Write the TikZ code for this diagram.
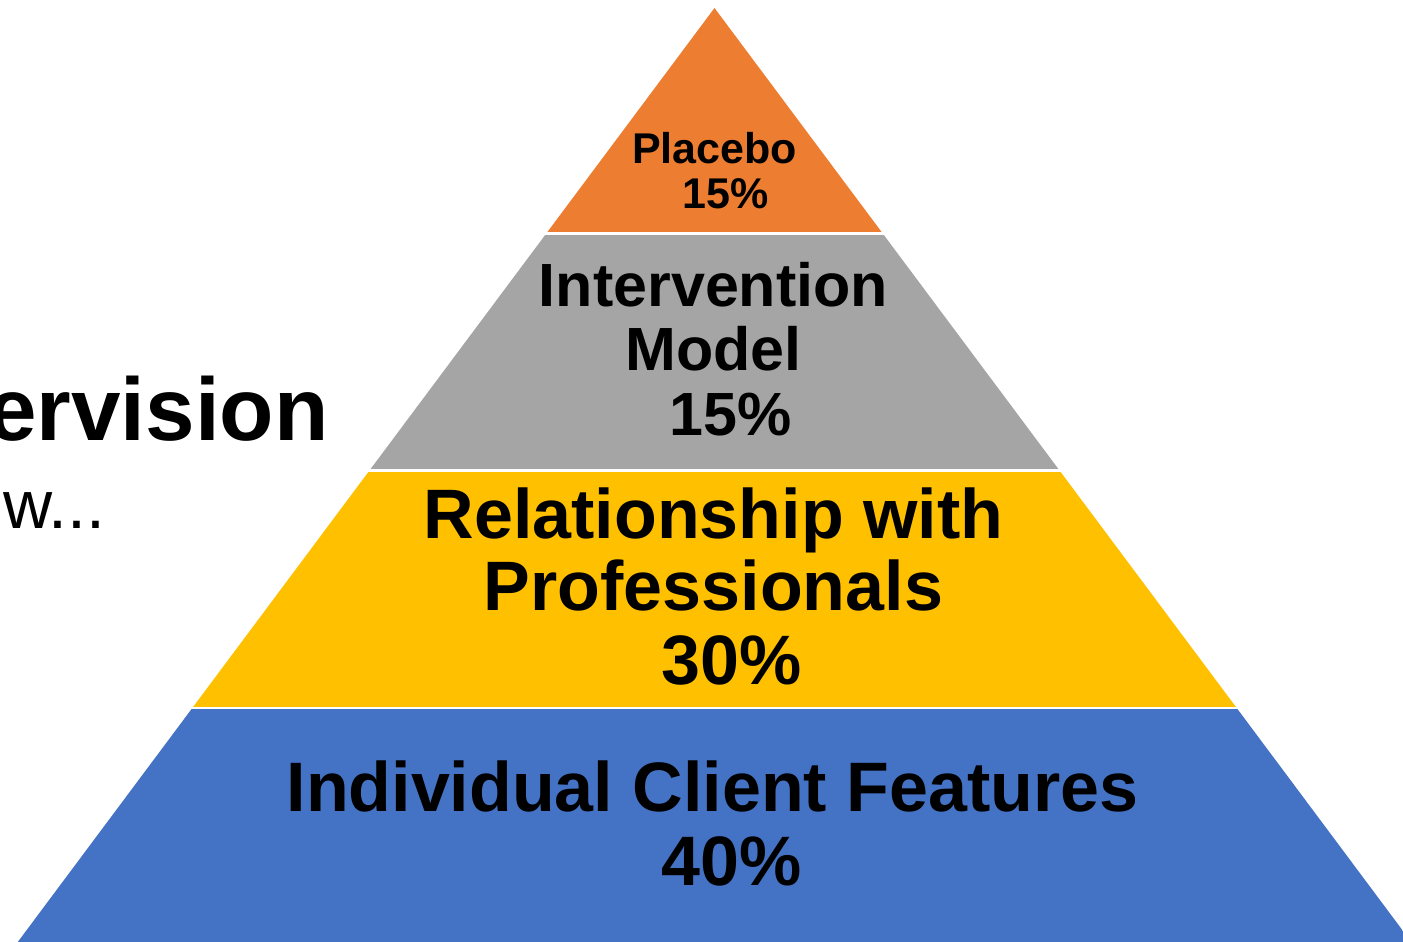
\documentclass[tikz,border=0pt]{standalone}
\usepackage{fontspec}
\setmainfont{Liberation Sans}
\definecolor{pyrOrange}{HTML}{ED7D31}
\definecolor{pyrGray}{HTML}{A5A5A5}
\definecolor{pyrYellow}{HTML}{FFC000}
\definecolor{pyrBlue}{HTML}{4472C4}
\tikzset{
  lbl/.style={inner sep=0pt, outer sep=0pt, anchor=base, text=black},
  fsmall/.style={font=\bfseries\fontsize{43}{43}\selectfont},
  fmid/.style={font=\bfseries\fontsize{61}{61}\selectfont},
  fbig/.style={font=\bfseries\fontsize{70}{70}\selectfont},
}
\begin{document}
\begin{tikzpicture}[x=1pt,y=-1pt]
\useasboundingbox (0,0) rectangle (1403,942);
\fill[white] (0,0) rectangle (1403,942);
\begin{scope}
  \clip (714.5,8) -- (11.8,950) -- (1417.2,950) -- cycle;
  \fill[pyrOrange] (0,0) rectangle (1420,232.3);
  \fill[pyrGray] (0,235) rectangle (1420,469.3);
  \fill[pyrYellow] (0,472) rectangle (1420,706.7);
  \fill[pyrBlue] (0,709.3) rectangle (1420,960);
\end{scope}
% left side partial texts
\node[inner sep=0pt, anchor=base west, font=\bfseries\fontsize{89}{89}\selectfont] (title) at (-13,440.7) {ervision};
\node[inner sep=0pt, anchor=base west, font=\fontsize{68}{68}\selectfont] (sub) at (3,528) {w...};
% layer labels
\node[lbl, fsmall] (plA) at (714.5,163) {Placebo};
\node[lbl, fsmall] (plB) at (725.5,208) {15\%};
\node[lbl, fmid] (inA) at (713.5,306.7) {Intervention};
\node[lbl, fmid] (inB) at (713.5,370.5) {Model};
\node[lbl, fmid] (inC) at (730.5,435) {15\%};
\node[lbl, fbig] (reA) at (713.5,538.5) {Relationship with};
\node[lbl, fbig] (reB) at (713.5,610.5) {Professionals};
\node[lbl, fbig] (reC) at (732,684) {30\%};
\node[lbl, fbig] (icA) at (712.5,811.7) {Individual Client Features};
\node[lbl, fbig] (icB) at (732,885) {40\%};
\end{tikzpicture}
\end{document}
